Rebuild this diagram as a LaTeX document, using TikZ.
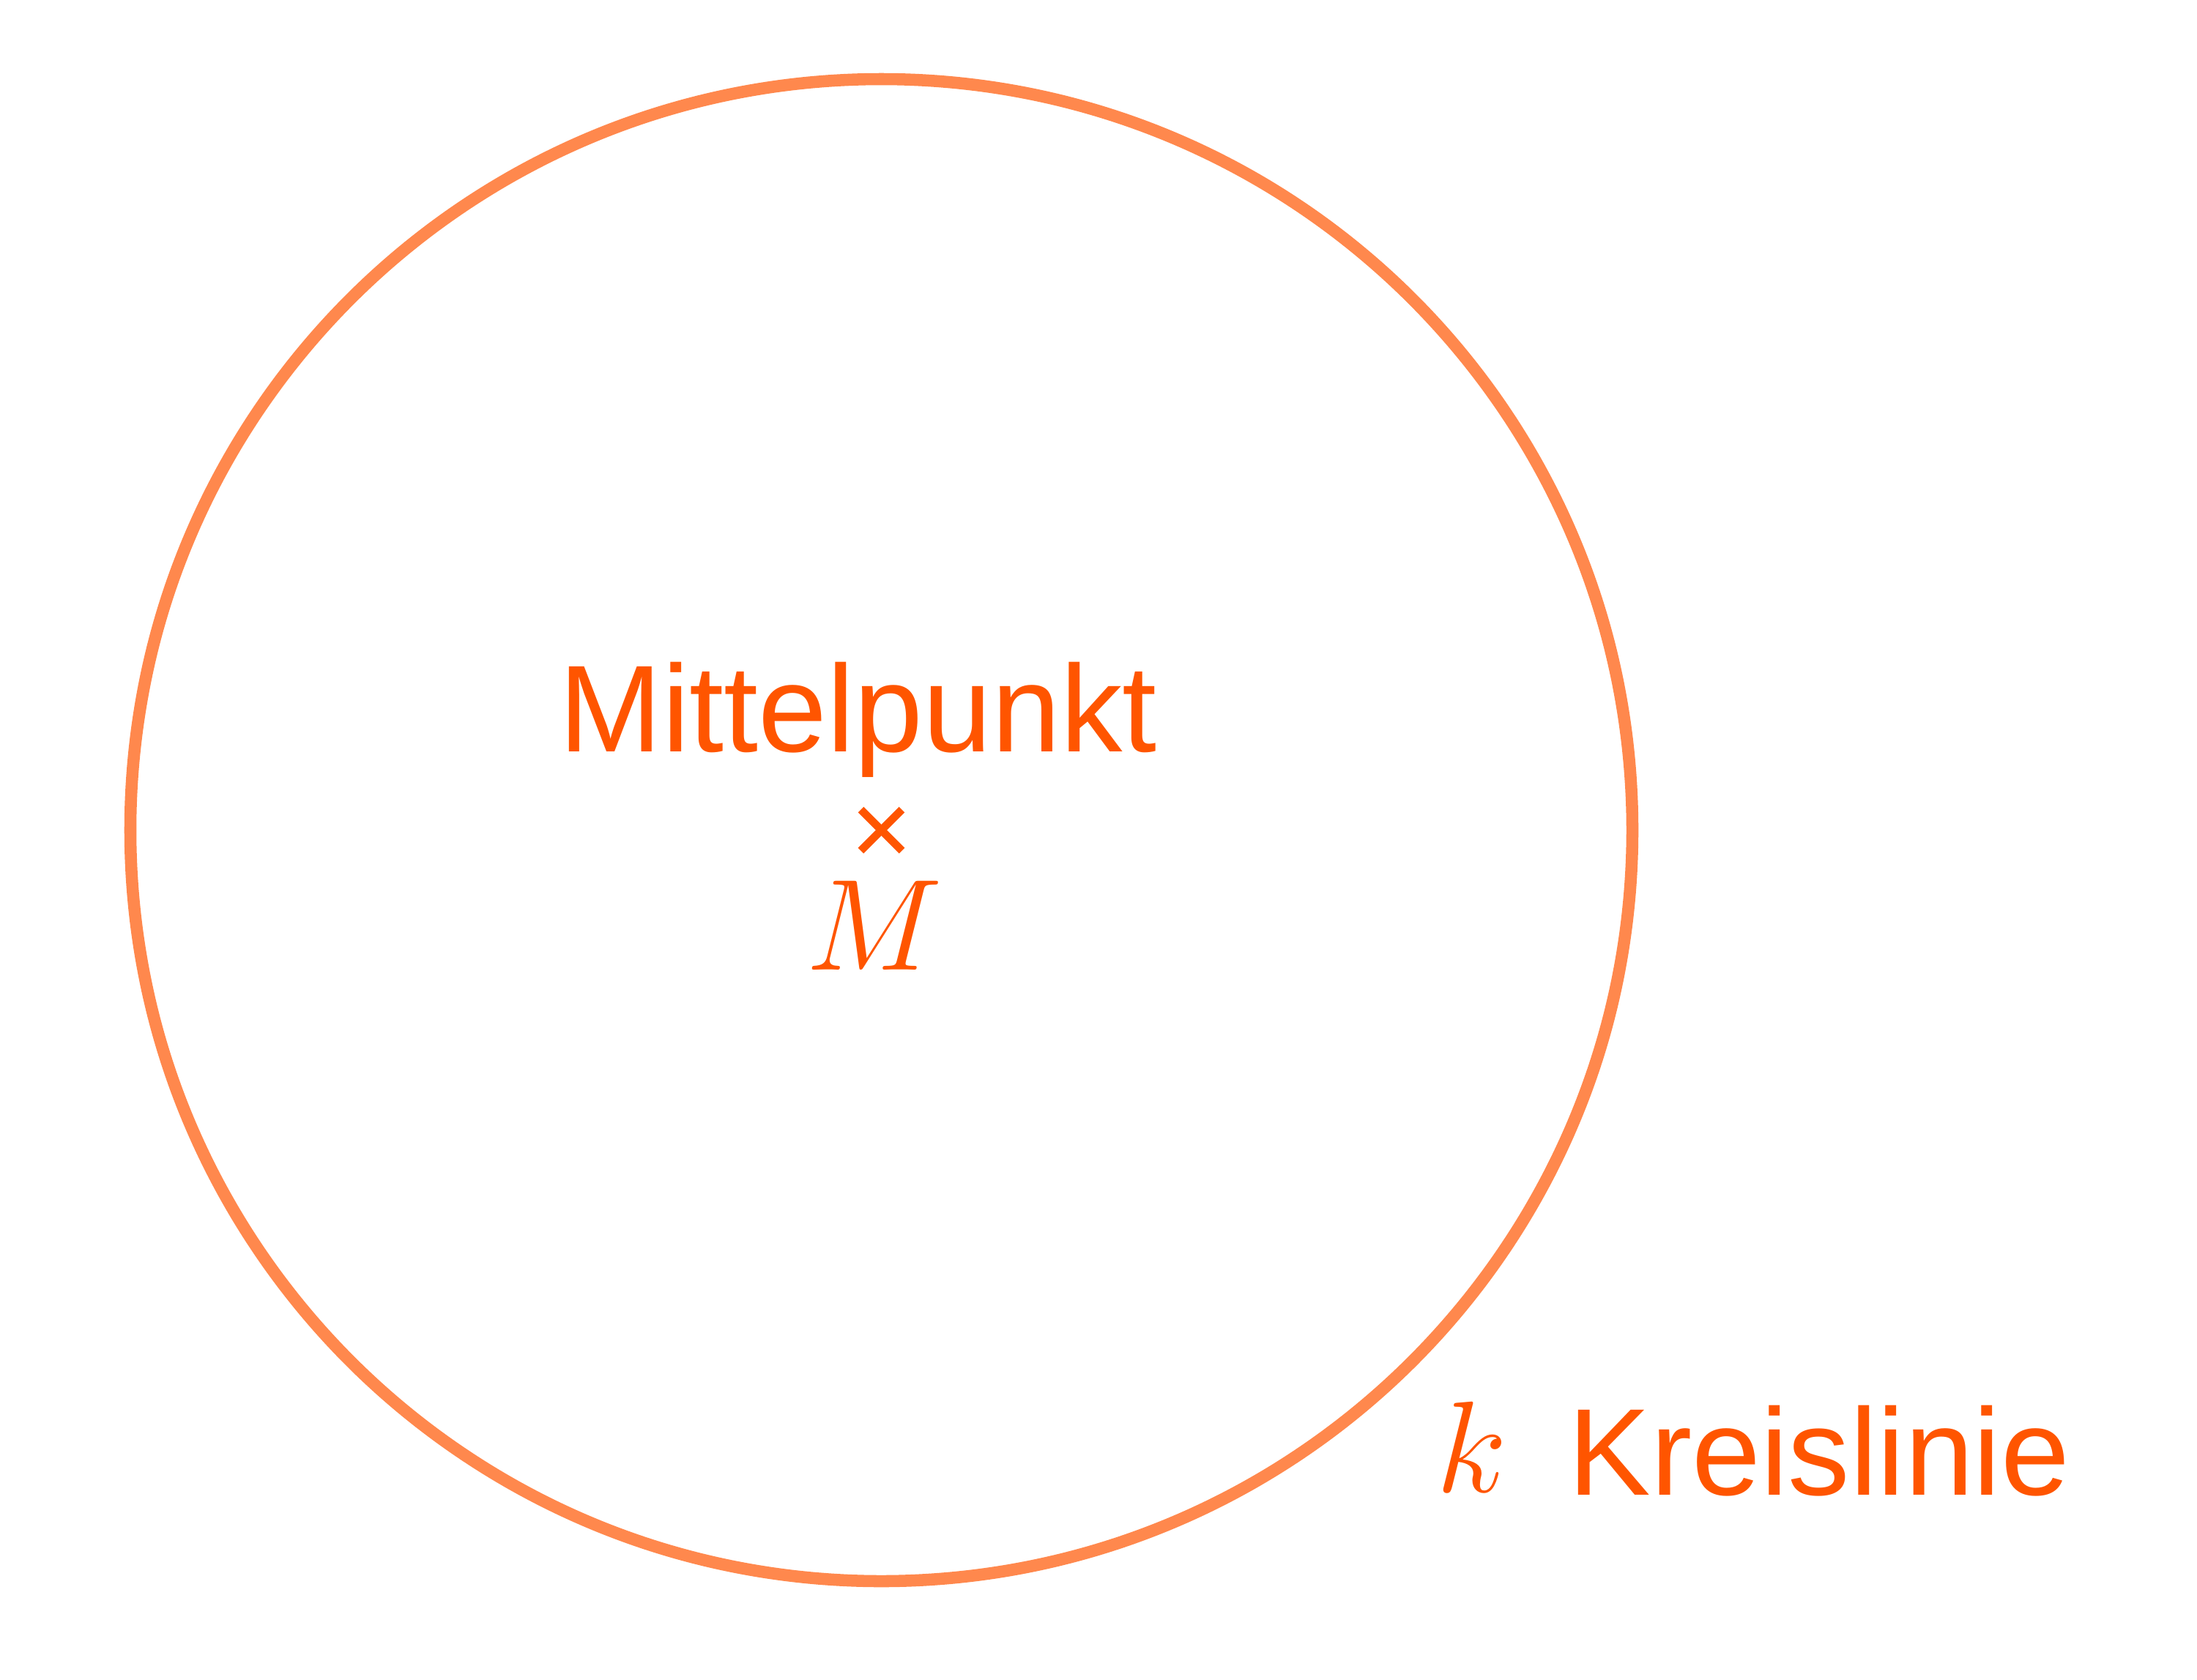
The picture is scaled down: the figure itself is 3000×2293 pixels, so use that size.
\RequirePackage{fix-cm}
\documentclass[tikz,border=0pt]{standalone}
\usepackage{fontspec}
\setmainfont{Liberation Sans}
\usetikzlibrary{calc}
\definecolor{txtorange}{HTML}{FF5500}
\definecolor{circorange}{HTML}{FF884D}
\tikzset{
  lbl/.style={inner sep=0pt, outer sep=0pt, text=txtorange, font=\fontsize{48}{58}\selectfont, anchor=base west},
  mlbl/.style={lbl, font=\fontsize{50.5}{60}\selectfont},
  circ/.style={draw=circorange, line width=4.7pt},
  crossline/.style={draw=txtorange, line width=3.1pt, line cap=butt}
}
\begin{document}
\begin{tikzpicture}[x=0.01cm, y=-0.01cm]
\useasboundingbox (0,0) rectangle (3000,2293);
\coordinate (c) at (1203.5,1133.5);
\draw[circ] (c) circle[radius=1025.5];
\draw[crossline] ($(c)+(-28,-28)$) -- ($(c)+(28,28)$);
\draw[crossline] ($(c)+(-28,28)$) -- ($(c)+(28,-28)$);
\node[lbl] (mp) at (763.6,1026.5) {Mittelpunkt};
\node[mlbl] (mM) at (1100,1324) {$M$};
\node[mlbl] (kk) at (1961,2037) {$k$};
\node[lbl] (kl) at (2141.6,2041) {Kreislinie};
\end{tikzpicture}
\end{document}
